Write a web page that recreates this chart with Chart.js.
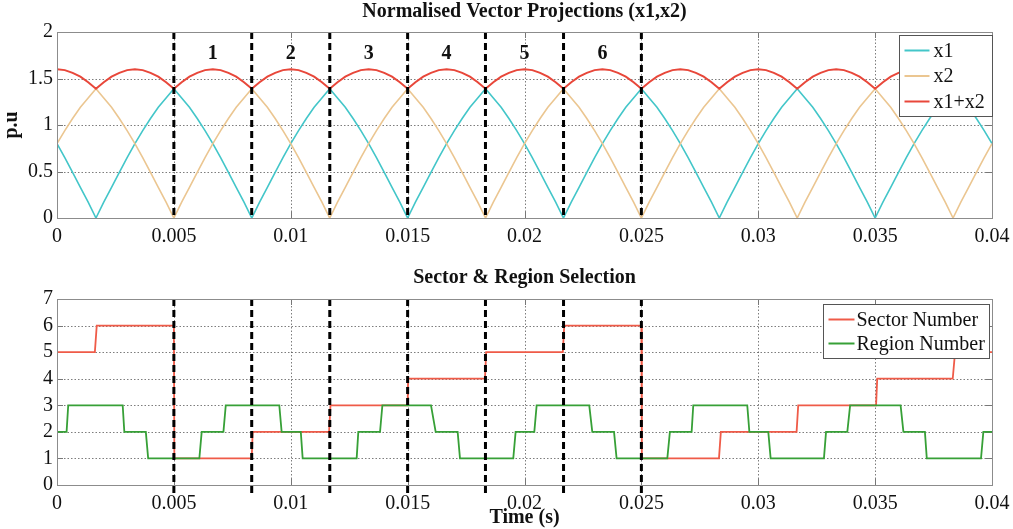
<!DOCTYPE html>
<html>
<head>
<meta charset="utf-8">
<title>Normalised Vector Projections</title>
<script src="https://cdn.jsdelivr.net/npm/chart.js@4.4.1/dist/chart.umd.min.js"></script>
<style>
  html, body { margin: 0; padding: 0; background: #fff; }
  #wrap { position: relative; width: 1013px; height: 529px; overflow: hidden; }
  #projChart { position: absolute; left: 0; top: 0; }
  #sectorChart { position: absolute; left: 0; top: 255px; }
</style>
</head>
<body>
<div id="wrap">
  <canvas id="projChart" width="1013" height="255"></canvas>
  <canvas id="sectorChart" width="1013" height="274"></canvas>
</div>
<script>
// ---------------- data ----------------
// projection traces are sampled every SAMPLE_STEP seconds, starting at t = 0
const SAMPLE_STEP = 1 / 3000;

const x1Values = [
  0.80, 0.65, 0.49, 0.33, 0.17, 0.00, 0.17, 0.33, 0.49, 0.65,
  0.80, 0.94, 1.07, 1.19, 1.29, 1.39, 1.29, 1.19, 1.07, 0.94,
  0.80, 0.65, 0.49, 0.33, 0.17, 0.00, 0.17, 0.33, 0.49, 0.65,
  0.80, 0.94, 1.07, 1.19, 1.29, 1.39, 1.29, 1.19, 1.07, 0.94,
  0.80, 0.65, 0.49, 0.33, 0.17, 0.00, 0.17, 0.33, 0.49, 0.65,
  0.80, 0.94, 1.07, 1.19, 1.29, 1.39, 1.29, 1.19, 1.07, 0.94,
  0.80, 0.65, 0.49, 0.33, 0.17, 0.00, 0.17, 0.33, 0.49, 0.65,
  0.80, 0.94, 1.07, 1.19, 1.29, 1.39, 1.29, 1.19, 1.07, 0.94,
  0.80, 0.65, 0.49, 0.33, 0.17, 0.00, 0.17, 0.33, 0.49, 0.65,
  0.80, 0.94, 1.07, 1.19, 1.29, 1.39, 1.29, 1.19, 1.07, 0.94,
  0.80, 0.65, 0.49, 0.33, 0.17, 0.00, 0.17, 0.33, 0.49, 0.65,
  0.80, 0.94, 1.07, 1.19, 1.29, 1.39, 1.29, 1.19, 1.07, 0.94,
  0.80
];

const x2Values = [
  0.80, 0.94, 1.07, 1.19, 1.29, 1.39, 1.29, 1.19, 1.07, 0.94,
  0.80, 0.65, 0.49, 0.33, 0.17, 0.00, 0.17, 0.33, 0.49, 0.65,
  0.80, 0.94, 1.07, 1.19, 1.29, 1.39, 1.29, 1.19, 1.07, 0.94,
  0.80, 0.65, 0.49, 0.33, 0.17, 0.00, 0.17, 0.33, 0.49, 0.65,
  0.80, 0.94, 1.07, 1.19, 1.29, 1.39, 1.29, 1.19, 1.07, 0.94,
  0.80, 0.65, 0.49, 0.33, 0.17, 0.00, 0.17, 0.33, 0.49, 0.65,
  0.80, 0.94, 1.07, 1.19, 1.29, 1.39, 1.29, 1.19, 1.07, 0.94,
  0.80, 0.65, 0.49, 0.33, 0.17, 0.00, 0.17, 0.33, 0.49, 0.65,
  0.80, 0.94, 1.07, 1.19, 1.29, 1.39, 1.29, 1.19, 1.07, 0.94,
  0.80, 0.65, 0.49, 0.33, 0.17, 0.00, 0.17, 0.33, 0.49, 0.65,
  0.80, 0.94, 1.07, 1.19, 1.29, 1.39, 1.29, 1.19, 1.07, 0.94,
  0.80, 0.65, 0.49, 0.33, 0.17, 0.00, 0.17, 0.33, 0.49, 0.65,
  0.80
];

const sumValues = [
  1.60, 1.59, 1.56, 1.52, 1.46, 1.39, 1.46, 1.52, 1.56, 1.59,
  1.60, 1.59, 1.56, 1.52, 1.46, 1.39, 1.46, 1.52, 1.56, 1.59,
  1.60, 1.59, 1.56, 1.52, 1.46, 1.39, 1.46, 1.52, 1.56, 1.59,
  1.60, 1.59, 1.56, 1.52, 1.46, 1.39, 1.46, 1.52, 1.56, 1.59,
  1.60, 1.59, 1.56, 1.52, 1.46, 1.39, 1.46, 1.52, 1.56, 1.59,
  1.60, 1.59, 1.56, 1.52, 1.46, 1.39, 1.46, 1.52, 1.56, 1.59,
  1.60, 1.59, 1.56, 1.52, 1.46, 1.39, 1.46, 1.52, 1.56, 1.59,
  1.60, 1.59, 1.56, 1.52, 1.46, 1.39, 1.46, 1.52, 1.56, 1.59,
  1.60, 1.59, 1.56, 1.52, 1.46, 1.39, 1.46, 1.52, 1.56, 1.59,
  1.60, 1.59, 1.56, 1.52, 1.46, 1.39, 1.46, 1.52, 1.56, 1.59,
  1.60, 1.59, 1.56, 1.52, 1.46, 1.39, 1.46, 1.52, 1.56, 1.59,
  1.60, 1.59, 1.56, 1.52, 1.46, 1.39, 1.46, 1.52, 1.56, 1.59,
  1.60
];

// sector boundaries marked with dashed lines, and the sector numbers written between them
const sectorBoundaries = [0.005, 0.00833, 0.01167, 0.015, 0.01833, 0.02167, 0.025];
const sectorNames = ['1', '2', '3', '4', '5', '6'];
const sectorNameLevel = 1.77;

// sector number (step trace)
const sectorTimes = [
  0, 0.00162, 0.00170, 0.00500, 0.00502, 0.00833, 0.00837, 0.01164, 0.01170,
  0.01500, 0.01502, 0.01831, 0.01836, 0.02164, 0.02170, 0.02500, 0.02502,
  0.02832, 0.02840, 0.03164, 0.03171, 0.03504, 0.03509, 0.03832, 0.03842, 0.04
];
const sectorValues = [
  5, 5, 6, 6, 1, 1, 2, 2, 3,
  3, 4, 4, 5, 5, 6, 6, 1,
  1, 2, 2, 3, 3, 4, 4, 5, 5
];

// region number (step trace)
const regionTimes = [
  0, 0.00041, 0.00048, 0.00281, 0.00288, 0.00380, 0.00390, 0.00609,
  0.00619, 0.00712, 0.00722, 0.00951, 0.00961, 0.01043, 0.01051, 0.01282,
  0.01289, 0.01382, 0.01392, 0.01600, 0.01620, 0.01714, 0.01724, 0.01952,
  0.01962, 0.02042, 0.02052, 0.02277, 0.02290, 0.02383, 0.02394, 0.02611,
  0.02622, 0.02715, 0.02722, 0.02953, 0.02962, 0.03043, 0.03053, 0.03281,
  0.03290, 0.03381, 0.03393, 0.03609, 0.03621, 0.03713, 0.03721, 0.03953,
  0.03963, 0.04
];
const regionValues = [
  2, 2, 3, 3, 2, 2, 1, 1,
  2, 2, 3, 3, 2, 2, 1, 1,
  2, 2, 3, 3, 2, 2, 1, 1,
  2, 2, 3, 3, 2, 2, 1, 1,
  2, 2, 3, 3, 2, 2, 1, 1,
  2, 2, 3, 3, 2, 2, 1, 1,
  2, 2
];

// axis ticks and their labels
const timeTicks = [0, 0.005, 0.01, 0.015, 0.02, 0.025, 0.03, 0.035, 0.04];
const timeTickLabels = ['0', '0.005', '0.01', '0.015', '0.02', '0.025', '0.03', '0.035', '0.04'];
const projTicks = [0, 0.5, 1, 1.5, 2];
const projTickLabels = ['0', '0.5', '1', '1.5', '2'];
const numberTicks = [0, 1, 2, 3, 4, 5, 6, 7];
const numberTickLabels = ['0', '1', '2', '3', '4', '5', '6', '7'];

// ---------------- styling ----------------
const SERIF = "'Liberation Serif', 'Times New Roman', Times, serif";
Chart.defaults.font.family = SERIF;
Chart.defaults.font.size = 20;
Chart.defaults.color = '#111';

const COLORS = {
  x1: '#43c6c9',
  x2: '#ebc691',
  sum: '#e8473a',
  sector: '#ef5b48',
  region: '#37a037',
  marker: '#000000'
};

const toPoints = (times, values) => values.map((v, i) => ({ x: times[i], y: v }));
const sampledPoints = values => values.map((v, i) => ({ x: i * SAMPLE_STEP, y: v }));

function boundaryDatasets(yFrom, yTo, extraClip) {
  return sectorBoundaries.map(t => ({
    data: [{ x: t, y: yTo }, { x: t, y: yFrom }],
    borderColor: COLORS.marker,
    borderWidth: 3,
    borderDash: [7, 4],
    pointRadius: 0,
    order: 1,
    clip: { left: 0, right: 0, top: 0, bottom: extraClip }
  }));
}

function fixedTicks(values) {
  return scale => { scale.ticks = values.map(v => ({ value: v })); };
}

// the time axis keeps a fixed height and does not reserve room for its end labels
function timeAxisFit(height) {
  return scale => {
    scale.height = height;
    scale.paddingLeft = 0;
    scale.paddingRight = 0;
  };
}

// grid, frame, inward tick marks, titles, legend and annotations
const decorations = {
  id: 'decorations',
  beforeDatasetsDraw(chart) {
    const { ctx, chartArea: a, scales: { x, y } } = chart;
    ctx.save();
    ctx.lineWidth = 1;
    ctx.strokeStyle = 'rgba(70,70,70,0.7)';
    ctx.setLineDash([1.5, 2]);
    ctx.beginPath();
    x.ticks.forEach(t => {
      const px = Math.round(x.getPixelForValue(t.value)) + 0.5;
      if (px < a.left + 2 || px > a.right - 2) return;
      ctx.moveTo(px, a.top); ctx.lineTo(px, a.bottom);
    });
    y.ticks.forEach(t => {
      const py = Math.round(y.getPixelForValue(t.value)) + 0.5;
      if (py < a.top + 2 || py > a.bottom - 2) return;
      ctx.moveTo(a.left, py); ctx.lineTo(a.right, py);
    });
    ctx.stroke();
    ctx.setLineDash([]);
    ctx.strokeStyle = '#777';
    ctx.beginPath();
    const tl = 6;
    x.ticks.forEach(t => {
      const px = Math.round(x.getPixelForValue(t.value)) + 0.5;
      ctx.moveTo(px, a.bottom); ctx.lineTo(px, a.bottom - tl);
      ctx.moveTo(px, a.top); ctx.lineTo(px, a.top + tl);
    });
    y.ticks.forEach(t => {
      const py = Math.round(y.getPixelForValue(t.value)) + 0.5;
      ctx.moveTo(a.left, py); ctx.lineTo(a.left + tl, py);
      ctx.moveTo(a.right, py); ctx.lineTo(a.right - tl, py);
    });
    ctx.stroke();
    ctx.restore();
  },
  afterDatasetsDraw(chart, args, opts) {
    const { ctx, chartArea: a, scales: { x, y } } = chart;
    ctx.save();
    // frame
    ctx.strokeStyle = '#8c8c8c';
    ctx.lineWidth = 1;
    ctx.strokeRect(Math.round(a.left) + 0.5, Math.round(a.top) + 0.5,
                   Math.round(a.right - a.left), Math.round(a.bottom - a.top));

    // title above the plot
    ctx.fillStyle = '#111';
    ctx.font = `bold 20px ${SERIF}`;
    ctx.textAlign = 'center';
    ctx.textBaseline = 'middle';
    ctx.fillText(opts.title, (a.left + a.right) / 2, opts.titleY);

    // sector numbers between boundaries
    if (opts.sectorNames) {
      for (let i = 0; i < sectorNames.length; i++) {
        const mid = (sectorBoundaries[i] + sectorBoundaries[i + 1]) / 2;
        ctx.fillText(sectorNames[i], x.getPixelForValue(mid), y.getPixelForValue(sectorNameLevel));
      }
    }

    // legend box in the upper-right corner
    const items = chart.data.datasets.filter(d => d.label);
    ctx.font = `20px ${SERIF}`;
    const textW = Math.max(...items.map(d => ctx.measureText(d.label).width));
    const L = opts.legend;
    const boxW = L.padLeft + L.lineLen + L.gap + textW + L.padRight;
    const boxH = L.rowTop * 2 + L.rowStep * (items.length - 1);
    const bx = Math.round(a.right - L.insetRight - boxW) + 0.5;
    const by = Math.round(a.top + L.insetTop) + 0.5;
    ctx.fillStyle = '#fff';
    ctx.fillRect(bx, by, Math.round(boxW), Math.round(boxH));
    ctx.strokeStyle = '#555';
    ctx.lineWidth = 1;
    ctx.strokeRect(bx, by, Math.round(boxW), Math.round(boxH));
    ctx.textAlign = 'left';
    items.forEach((d, i) => {
      const ry = by + L.rowTop + i * L.rowStep;
      ctx.strokeStyle = d.borderColor;
      ctx.lineWidth = 2;
      ctx.beginPath();
      ctx.moveTo(bx + L.padLeft, ry);
      ctx.lineTo(bx + L.padLeft + L.lineLen, ry);
      ctx.stroke();
      ctx.fillStyle = '#111';
      ctx.fillText(d.label, bx + L.padLeft + L.lineLen + L.gap, ry + 1);
    });
    ctx.restore();
  }
};

function baseOptions() {
  return {
    responsive: false,
    animation: false,
    devicePixelRatio: 1,
    events: [],
    elements: { line: { tension: 0 }, point: { radius: 0 } },
    plugins: { legend: { display: false }, tooltip: { enabled: false } }
  };
}

const hiddenGrid = { display: false, drawTicks: false, tickLength: 0 };

// ---------------- top: projections ----------------
const projOptions = baseOptions();
projOptions.layout = { padding: { top: 32, right: 21, left: 0, bottom: 0 } };
projOptions.scales = {
  x: {
    type: 'linear', min: 0, max: 0.04,
    afterBuildTicks: fixedTicks(timeTicks),
    afterFit: timeAxisFit(37),
    grid: hiddenGrid, border: { display: false },
    ticks: { padding: 7, maxRotation: 0, autoSkip: false,
             callback: (v, i) => timeTickLabels[i] }
  },
  y: {
    type: 'linear', min: 0, max: 2,
    afterBuildTicks: fixedTicks(projTicks),
    afterFit: s => { s.width = 57; },
    grid: hiddenGrid, border: { display: false },
    title: { display: true, text: 'p.u', font: { weight: 'bold', size: 20 }, padding: 0, color: '#111' },
    ticks: { padding: 4, autoSkip: false, callback: (v, i) => projTickLabels[i] }
  }
};
projOptions.plugins.decorations = {
  title: 'Normalised Vector Projections (x1,x2)',
  titleY: 12,
  sectorNames: true,
  legend: { insetRight: 0, insetTop: 3, padLeft: 5, lineLen: 25, gap: 4, padRight: 8, rowTop: 15, rowStep: 25.5 }
};

new Chart(document.getElementById('projChart'), {
  type: 'line',
  data: {
    datasets: [
      { label: 'x1', data: sampledPoints(x1Values), borderColor: COLORS.x1, borderWidth: 1.6, order: 4 },
      { label: 'x2', data: sampledPoints(x2Values), borderColor: COLORS.x2, borderWidth: 1.6, order: 3 },
      { label: 'x1+x2', data: sampledPoints(sumValues), borderColor: COLORS.sum, borderWidth: 2, order: 2 },
      ...boundaryDatasets(0, 2, 0)
    ]
  },
  options: projOptions,
  plugins: [decorations]
});

// ---------------- bottom: sector & region ----------------
const selOptions = baseOptions();
selOptions.layout = { padding: { top: 44, right: 21, left: 0, bottom: 0 } };
selOptions.scales = {
  x: {
    type: 'linear', min: 0, max: 0.04,
    afterBuildTicks: fixedTicks(timeTicks),
    afterFit: timeAxisFit(44),
    grid: hiddenGrid, border: { display: false },
    title: { display: true, text: 'Time (s)', font: { weight: 'bold', size: 20 }, padding: { top: 0, bottom: -1 }, color: '#111' },
    ticks: { padding: 7, maxRotation: 0, autoSkip: false,
             callback: (v, i) => timeTickLabels[i] }
  },
  y: {
    type: 'linear', min: 0, max: 7,
    afterBuildTicks: fixedTicks(numberTicks),
    afterFit: s => { s.width = 57; },
    grid: hiddenGrid, border: { display: false },
    ticks: { padding: 4, autoSkip: false, callback: (v, i) => numberTickLabels[i] }
  }
};
selOptions.plugins.decorations = {
  title: 'Sector & Region Selection',
  titleY: 23,
  sectorNames: false,
  legend: { insetRight: 3, insetTop: 5, padLeft: 5, lineLen: 26, gap: 2, padRight: 5, rowTop: 15, rowStep: 24 }
};

new Chart(document.getElementById('sectorChart'), {
  type: 'line',
  data: {
    datasets: [
      { label: 'Sector Number', data: toPoints(sectorTimes, sectorValues), borderColor: COLORS.sector, borderWidth: 1.8, order: 3 },
      { label: 'Region Number', data: toPoints(regionTimes, regionValues), borderColor: COLORS.region, borderWidth: 1.8, order: 2 },
      ...boundaryDatasets(-0.3, 7, 10)
    ]
  },
  options: selOptions,
  plugins: [decorations]
});
</script>
</body>
</html>
